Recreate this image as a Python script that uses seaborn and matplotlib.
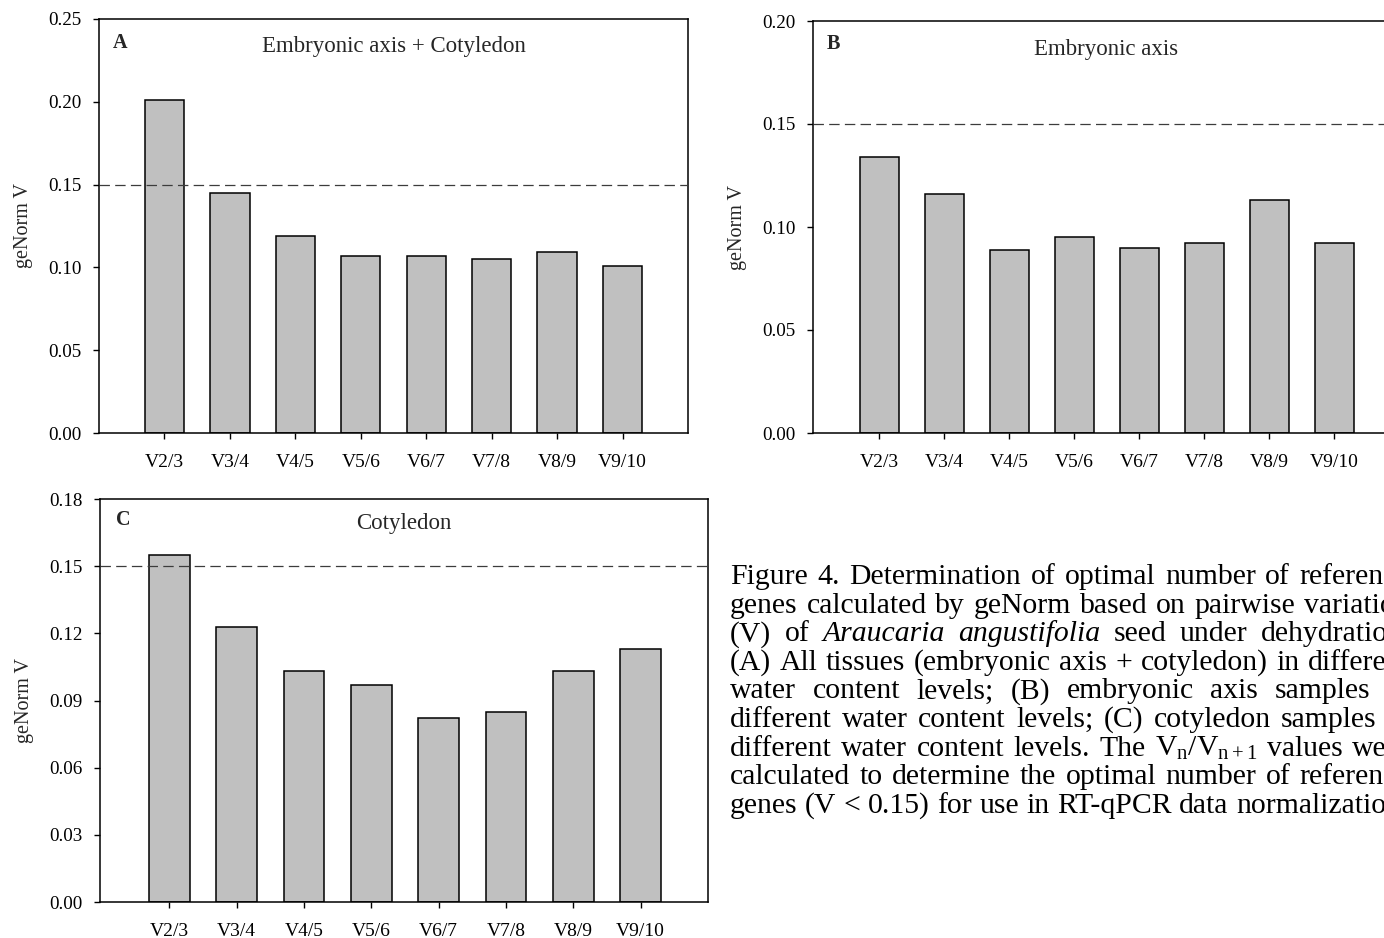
import matplotlib
matplotlib.use("Agg")
import matplotlib.pyplot as plt
import seaborn as sns
import pandas as pd
from matplotlib.ticker import FixedLocator, FixedFormatter

# ---- data -------------------------------------------------------------
categories = ["V2/3", "V3/4", "V4/5", "V5/6", "V6/7", "V7/8", "V8/9", "V9/10"]
v_axis_plus_cotyledon = [0.201, 0.145, 0.119, 0.107, 0.107, 0.105, 0.109, 0.101]
v_embryonic_axis = [0.134, 0.116, 0.089, 0.095, 0.090, 0.092, 0.113, 0.092]
v_cotyledon = [0.155, 0.123, 0.103, 0.097, 0.082, 0.085, 0.103, 0.113]
cutoff_v = 0.15

panel_letters = ["A", "B", "C"]
panel_titles = ["Embryonic axis + Cotyledon", "Embryonic axis", "Cotyledon"]
y_ticks_a = [0.00, 0.05, 0.10, 0.15, 0.20, 0.25]
y_ticks_b = [0.00, 0.05, 0.10, 0.15, 0.20]
y_ticks_c = [0.00, 0.03, 0.06, 0.09, 0.12, 0.15, 0.18]

caption_lines = [
    "Figure 4. Determination of optimal number of reference",
    "genes calculated by geNorm based on pairwise variation",
    "(V) of Araucaria angustifolia seed under dehydration.",
    "(A) All tissues (embryonic axis + cotyledon) in different",
    "water content levels; (B) embryonic axis samples in",
    "different water content levels; (C) cotyledon samples in",
    "different water content levels. The Vn/Vn+1 values were",
    "calculated to determine the optimal number of reference",
    "genes (V < 0.15) for use in RT-qPCR data normalization.",
]
italic_words = {"Araucaria", "angustifolia"}
math_words = {"Vn/Vn+1": r"V$_{\rm n}$/V$_{\rm n+1}$"}

# ---- style ------------------------------------------------------------
sns.set_style("ticks")
plt.rcParams["font.family"] = ["Liberation Serif", "DejaVu Serif"]
plt.rcParams["mathtext.fontset"] = "custom"
plt.rcParams["mathtext.rm"] = "Liberation Serif"
plt.rcParams["mathtext.it"] = "Liberation Serif:italic"
plt.rcParams["lines.scale_dashes"] = False

W, H = 1384, 938
fig = plt.figure(figsize=(W / 100, H / 100), dpi=100)
fig.patch.set_facecolor("white")


def px_axes(left, top, right, bottom):
    return fig.add_axes([left / W, 1 - bottom / H, (right - left) / W, (bottom - top) / H])


panels = [
    dict(ax=px_axes(99, 19, 688, 433), values=v_axis_plus_cotyledon, ticks=y_ticks_a,
         xlim=(-1.0, 8.0), title_y=0.933, letter=(0.024, 0.942)),
    dict(ax=px_axes(813, 21, 1399, 433), values=v_embryonic_axis, ticks=y_ticks_b,
         xlim=(-1.02, 8.0), title_y=0.930, letter=(0.024, 0.944)),
    dict(ax=px_axes(100, 499, 708, 902), values=v_cotyledon, ticks=y_ticks_c,
         xlim=(-1.03, 8.0), title_y=0.940, letter=(0.026, 0.948)),
]

for p, letter, title in zip(panels, panel_letters, panel_titles):
    ax = p["ax"]
    df = pd.DataFrame({"pair": categories, "V": p["values"]})
    sns.barplot(data=df, x="pair", y="V", color="#c0c0c0", saturation=1,
                edgecolor="black", linewidth=1.1, width=0.6, ax=ax)
    ax.axhline(cutoff_v, color="#3c3c3c", lw=0.9, dashes=(7.5, 3.8), zorder=3)

    ax.set_xlim(*p["xlim"])
    ax.set_ylim(p["ticks"][0], p["ticks"][-1])
    ax.yaxis.set_major_locator(FixedLocator(p["ticks"]))
    ax.yaxis.set_major_formatter(FixedFormatter([f"{t:.2f}" for t in p["ticks"]]))

    for side in ["left", "right", "top", "bottom"]:
        ax.spines[side].set_visible(True)
        ax.spines[side].set_linewidth(1.1)
        ax.spines[side].set_color("black")
    ax.tick_params(axis="both", direction="out", length=4.3, width=1.0, colors="black")
    ax.tick_params(axis="y", labelsize=13.7, pad=8.5)
    ax.tick_params(axis="x", labelsize=14, pad=10.5)
    ax.set_xlabel("")
    ax.set_ylabel("geNorm V", fontsize=14.5, labelpad=11)

    ax.text(0.5, p["title_y"], title, transform=ax.transAxes, ha="center", va="center",
            fontsize=16.5)
    ax.text(p["letter"][0], p["letter"][1], letter, transform=ax.transAxes, ha="left",
            va="center", fontsize=14.5, fontweight="bold")

# ---- justified caption -----------------------------------------------
renderer = fig.canvas.get_renderer()
cap_size = 21.4
left_px, right_px = 730, 1410
baseline0, step = 584, 28.6

for i, line in enumerate(caption_lines):
    words = line.split(" ")
    texts = []
    for w in words:
        style = "italic" if w in italic_words else "normal"
        s = math_words.get(w, w)
        texts.append(fig.text(0, 0, s, fontsize=cap_size, fontstyle=style,
                              ha="left", va="baseline", color="black"))
    widths = [t.get_window_extent(renderer).width for t in texts]
    if i < len(caption_lines) - 1:
        gap = (right_px - left_px - sum(widths)) / (len(words) - 1)
    else:
        gap = 0.25 * cap_size * 100 / 72
    x = left_px
    y = baseline0 + i * step
    for t, w in zip(texts, widths):
        t.set_position((x / W, 1 - y / H))
        x += w + gap

fig.savefig("out.png", dpi=100)
